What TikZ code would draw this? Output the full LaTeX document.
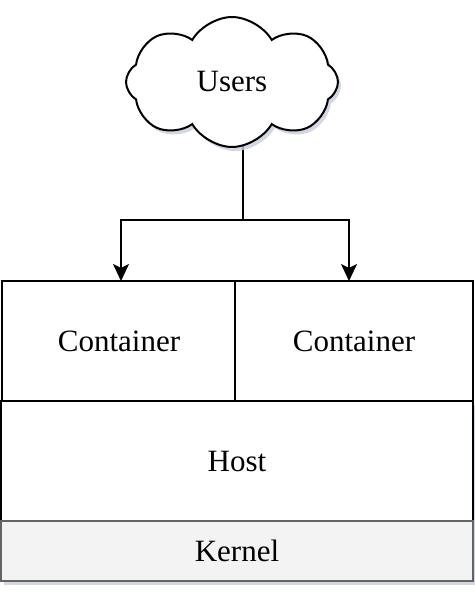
\documentclass[tikz,border=0pt]{standalone}
\usepackage{fontspec}
\setmainfont{Liberation Serif}
\usetikzlibrary{shapes.symbols,shadows,arrows.meta}
\definecolor{shadowcol}{RGB}{200,204,222}
\definecolor{kernelfill}{RGB}{243,243,243}
\definecolor{kerneldraw}{RGB}{100,100,100}
\begin{document}
\begin{tikzpicture}[x=1pt,y=-1pt,
  lbl/.style={font=\fontsize{31}{36}\selectfont},
  boxshadow/.style={drop shadow={shadow xshift=3pt,shadow yshift=-4pt,fill=shadowcol,opacity=0.8}},
  layer/.style={draw=black,line width=2pt,fill=white,inner sep=0pt,lbl},
  conn/.style={line width=2pt,draw=black},
  tip/.style={-{Stealth[length=17pt,width=16pt,inset=4pt]}}]
\useasboundingbox (0,0) rectangle (474,594);
% layers
\node[layer,boxshadow,minimum width=472pt,minimum height=120pt] (host) at (237,461) {Host};
\node[layer,draw=kerneldraw,fill=kernelfill,boxshadow,minimum width=472pt,minimum height=60pt] (kernel) at (237,551) {Kernel};
\node[layer,minimum width=234pt,minimum height=120pt] (c1) at (119,341) {Container};
\node[layer,minimum width=238pt,minimum height=120pt] (c2) at (354,341) {Container};
\node[layer,draw=kerneldraw,fill=kernelfill,minimum width=472pt,minimum height=60pt] at (237,551) {Kernel};
% connectors
\coordinate (j) at (243,220);
\coordinate (a1) at (121,281);
\coordinate (a2) at (349,281);
\coordinate (cc) at (243,100);
\draw[conn] (cc) -- (j);
\draw[conn,tip] (j) -| (a1);
\draw[conn,tip] (j) -| (a2);
% cloud
\node[cloud,cloud puffs=8,cloud puff arc=120,aspect=1.6,draw=black,line width=2pt,fill=white,
  drop shadow={shadow xshift=3pt,shadow yshift=-4pt,fill=shadowcol,opacity=0.8},
  minimum width=212pt,minimum height=130pt,inner sep=0pt,lbl] (users) at (232,82) {Users};
\end{tikzpicture}
\end{document}
